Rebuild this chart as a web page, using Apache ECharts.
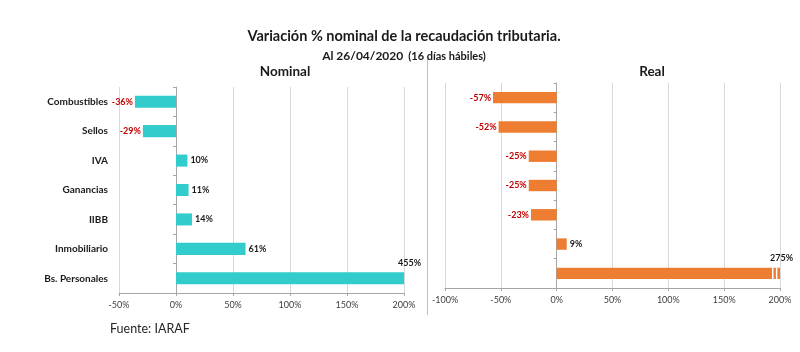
<!DOCTYPE html>
<html>
<head>
<meta charset="utf-8">
<script src="https://cdn.jsdelivr.net/npm/echarts@6/dist/echarts.min.js"></script>
<style>
  html, body { margin: 0; padding: 0; background: #fff; }
  #chart { width: 800px; height: 352px; }
</style>
</head>
<body>
<div id="chart"></div>
<script>
// datos de la recaudación
var categories = ['Combustibles', 'Sellos', 'IVA', 'Ganancias', 'IIBB', 'Inmobiliario', 'Bs. Personales'];
var nominalValues = [-36, -29, 10, 11, 14, 61, 455];
var realValues = [-57, -52, -25, -25, -23, 9, 275];
var nominalTicks = { min: -50, max: 200, interval: 50 };
var realTicks = { min: -100, max: 200, interval: 50 };
// marcas de corte sobre la barra truncada (en %)
var breakMarks = [[193.5, 6], [197, 6]];

var FONT = 'Lato, "Open Sans", sans-serif';
var RED = '#c00000';

function barData(values, max, capOffset) {
  return values.map(function(v) {
    var item = { value: Math.min(v, max) };
    if (v < 0) {
      item.label = { position: 'left', distance: 2, color: RED };
    } else if (v > max) {
      item.label = { position: 'right', distance: 0, offset: capOffset, color: '#1a1a1a' };
    } else {
      item.label = { position: 'right', distance: 3, color: '#1a1a1a' };
    }
    return item;
  });
}

function valueAxis(gridIndex, ticks) {
  return {
    type: 'value',
    gridIndex: gridIndex,
    min: ticks.min,
    max: ticks.max,
    interval: ticks.interval,
    axisLine: { show: true, lineStyle: { color: '#a6a6a6' } },
    axisTick: { show: true, length: 3, lineStyle: { color: '#a6a6a6' } },
    splitLine: { show: true, lineStyle: { color: '#d9d9d9' } },
    axisLabel: {
      formatter: '{value}%',
      fontFamily: FONT,
      fontSize: 9,
      color: '#404040',
      margin: 8
    }
  };
}

function categoryAxis(gridIndex, showLabels) {
  return {
    type: 'category',
    gridIndex: gridIndex,
    data: categories,
    inverse: true,
    axisLine: { show: true, onZero: true, lineStyle: { color: '#a6a6a6' } },
    axisTick: { show: true, length: 3, lineStyle: { color: '#a6a6a6' } },
    axisLabel: {
      show: showLabels,
      fontFamily: FONT,
      fontSize: 10,
      fontWeight: 'bold',
      color: '#1a1a1a',
      margin: 11
    }
  };
}

var chart = echarts.init(document.getElementById('chart'), null, { renderer: 'canvas' });

chart.setOption({
  animation: false,
  backgroundColor: '#fff',
  title: [
    {
      text: 'Variación % nominal de la recaudación tributaria.',
      left: 399, top: 24, textAlign: 'center',
      textStyle: { fontFamily: FONT, fontSize: 14.5, fontWeight: 'bold', color: '#1a1a1a' }
    },
    {
      text: '{a|Al 26/04/2020} {b|(16 días hábiles)}',
      left: 399, top: 42, textAlign: 'center',
      textStyle: {
        rich: {
          a: { fontFamily: FONT, fontSize: 12, fontWeight: 'bold', color: '#1a1a1a' },
          b: { fontFamily: FONT, fontSize: 11, fontWeight: 'bold', color: '#1a1a1a' }
        }
      }
    },
    {
      text: 'Nominal',
      left: 280, top: 60, textAlign: 'center',
      textStyle: { fontFamily: FONT, fontSize: 13.5, fontWeight: 'bold', color: '#1a1a1a' }
    },
    {
      text: 'Real',
      left: 647, top: 60, textAlign: 'center',
      textStyle: { fontFamily: FONT, fontSize: 13.5, fontWeight: 'bold', color: '#1a1a1a' }
    },
    {
      text: 'Fuente: IARAF',
      left: 105, top: 317,
      textStyle: { fontFamily: FONT, fontSize: 12.5, fontWeight: 'normal', color: '#262626' }
    }
  ],
  grid: [
    { left: 119, top: 87, width: 285, height: 206, outerBoundsMode: 'none' },
    { left: 445, top: 83, width: 335, height: 205, outerBoundsMode: 'none' }
  ],
  xAxis: [valueAxis(0, nominalTicks), valueAxis(1, realTicks)],
  yAxis: [categoryAxis(0, true), categoryAxis(1, false)],
  graphic: [
    {
      type: 'line',
      shape: { x1: 427.5, y1: 56, x2: 427.5, y2: 315 },
      style: { stroke: '#bfbfbf', lineWidth: 1 }
    }
  ],
  series: [
    {
      name: 'Nominal',
      type: 'bar',
      xAxisIndex: 0,
      yAxisIndex: 0,
      barWidth: '41%',
      itemStyle: { color: '#33cccc' },
      label: {
        show: true,
        fontFamily: FONT,
        fontSize: 9,
        fontWeight: 'bold',
        formatter: function(p) { return nominalValues[p.dataIndex] + '%'; }
      },
      data: barData(nominalValues, nominalTicks.max, [-6, -15])
    },
    {
      name: 'Real',
      type: 'bar',
      xAxisIndex: 1,
      yAxisIndex: 1,
      barWidth: '39%',
      itemStyle: { color: '#ed7d31' },
      label: {
        show: true,
        fontFamily: FONT,
        fontSize: 9,
        fontWeight: 'bold',
        formatter: function(p) { return realValues[p.dataIndex] + '%'; }
      },
      data: barData(realValues, realTicks.max, [-10, -15])
    },
    {
      name: 'corte',
      type: 'custom',
      xAxisIndex: 1,
      yAxisIndex: 1,
      silent: true,
      z: 5,
      encode: { x: 0, y: 1 },
      renderItem: function(params, api) {
        var pt = api.coord([api.value(0), api.value(1)]);
        var h = api.size([0, 1])[1] * 0.39;
        return {
          type: 'line',
          shape: { x1: pt[0], y1: pt[1] - h / 2, x2: pt[0], y2: pt[1] + h / 2 },
          style: { stroke: '#fff', lineWidth: 1.5 }
        };
      },
      data: breakMarks
    }
  ]
});
</script>
</body>
</html>
